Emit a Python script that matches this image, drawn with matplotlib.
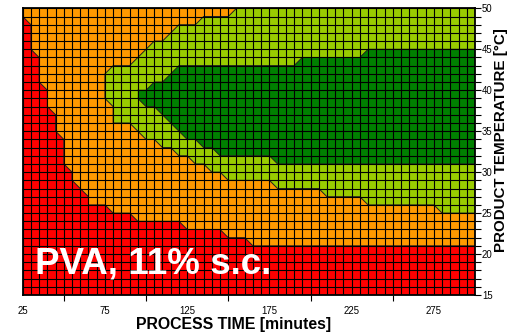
import matplotlib
matplotlib.use("Agg")
import matplotlib.pyplot as plt
from matplotlib.ticker import MultipleLocator, FixedLocator

plt.rcParams['font.family'] = ['Liberation Sans', 'DejaVu Sans']

# ---- data ----
time_min, time_max, time_step = 25, 300, 5
temp_min, temp_max, temp_step = 15, 50, 1

# red / orange boundary
red_edge_time = [25, 30, 30, 35, 35, 40, 40, 45, 45, 50, 50, 55, 55, 60, 65, 65,
                 75, 80, 90, 95, 120, 125, 145, 150, 160, 165, 300]
red_edge_temp = [49, 48, 45, 44, 41, 40, 38, 37, 35, 34, 31, 30, 29, 28, 27, 26,
                 26, 25, 25, 24, 24, 23, 23, 22, 22, 21, 21]

# orange / light-green boundary (from top edge down to right edge)
lg_edge_time = [155, 150, 135, 130, 120, 115, 110, 105, 100, 95, 90, 80, 75, 75, 80, 80,
                90, 95, 100, 105, 110, 115, 120, 125, 130, 135, 140, 145, 150, 175,
                180, 205, 210, 230, 235, 275, 280, 300]
lg_edge_temp = [50, 49, 49, 48, 48, 47, 46, 46, 45, 44, 43, 43, 42, 39, 38, 36,
                36, 35, 34, 34, 33, 33, 32, 32, 31, 31, 30, 30, 29, 29,
                28, 28, 27, 27, 26, 26, 25, 25]

# light-green / dark-green boundary: top part and bottom part
dg_top_time = [95, 100, 105, 110, 115, 120, 190, 195, 230, 235, 300]
dg_top_temp = [40, 40, 41, 41, 42, 43, 43, 44, 44, 45, 45]
dg_bot_time = [95, 100, 105, 110, 115, 120, 125, 130, 135, 140, 145, 175, 180, 300]
dg_bot_temp = [39, 38, 38, 37, 36, 35, 34, 34, 33, 33, 32, 32, 31, 31]

colors = {"red": "#FF0000", "orange": "#FF9900", "lightgreen": "#99CC00", "darkgreen": "#008000"}

x_label_ticks = [25, 75, 125, 175, 225, 275]
x_mark_ticks = [50, 100, 150, 200, 250]
y_label_ticks = [15, 20, 25, 30, 35, 40, 45, 50]

label_text = "PVA, 11% s.c."

# ---- figure ----
fig = plt.figure(figsize=(5.11, 3.34), dpi=100)
ax = fig.add_axes([0.0444, 0.1168, 0.9295 - 0.0444, 0.9751 - 0.1168])
ax.set_xlim(time_min, time_max)
ax.set_ylim(temp_min, temp_max)

ax.fill([time_min, time_max, time_max, time_min],
        [temp_min, temp_min, temp_max, temp_max], color=colors["red"], lw=0, zorder=1)
ax.fill(red_edge_time + [time_max, time_min], red_edge_temp + [temp_max, temp_max],
        color=colors["orange"], lw=0, zorder=2)
ax.fill(lg_edge_time + [time_max], lg_edge_temp + [temp_max],
        color=colors["lightgreen"], lw=0, zorder=3)
ax.fill(dg_top_time + dg_bot_time[::-1], dg_top_temp + dg_bot_temp[::-1],
        color=colors["darkgreen"], lw=0, zorder=4)

for xs, ys in [(red_edge_time, red_edge_temp), (lg_edge_time, lg_edge_temp),
               (dg_top_time, dg_top_temp), (dg_bot_time, dg_bot_temp)]:
    ax.plot(xs, ys, color="#202020", lw=0.7, zorder=5)

for t in range(time_min, time_max + 1, time_step):
    ax.axvline(t, color="black", lw=0.8, zorder=6)
for T in range(temp_min, temp_max + 1, temp_step):
    ax.axhline(T, color="black", lw=0.8, zorder=6)

for s in ax.spines.values():
    s.set_linewidth(1.3)
    s.set_zorder(7)

ax.xaxis.set_major_locator(FixedLocator(x_label_ticks))
ax.xaxis.set_minor_locator(FixedLocator(x_mark_ticks))
ax.tick_params(axis="x", which="major", length=0, labelsize=6.9, pad=8)
ax.tick_params(axis="x", which="minor", length=4, width=0.8, direction="out")
ax.set_xlabel("PROCESS TIME [minutes]", fontsize=11.4, fontweight="bold")
ax.xaxis.set_label_coords(0.467, -0.078)

ax.yaxis.tick_right()
ax.yaxis.set_label_position("right")
ax.yaxis.set_major_locator(FixedLocator(y_label_ticks))
ax.yaxis.set_minor_locator(MultipleLocator(1))
ax.tick_params(axis="y", which="major", length=4, width=0.8, direction="out",
               labelsize=6.9, pad=1, left=False, right=True)
ax.tick_params(axis="y", which="minor", length=4, width=0.8, direction="out",
               left=False, right=True)
ax.set_ylabel("PRODUCT TEMPERATURE [°C]", fontsize=10.9, fontweight="bold", rotation=90)
ax.yaxis.set_label_coords(1.043, 0.54)

ax.text(0.027, 0.075, label_text, transform=ax.transAxes, color="white",
        fontsize=26.5, fontweight="bold", zorder=8, ha="left", va="baseline")

fig.savefig("out.png", dpi=100)
